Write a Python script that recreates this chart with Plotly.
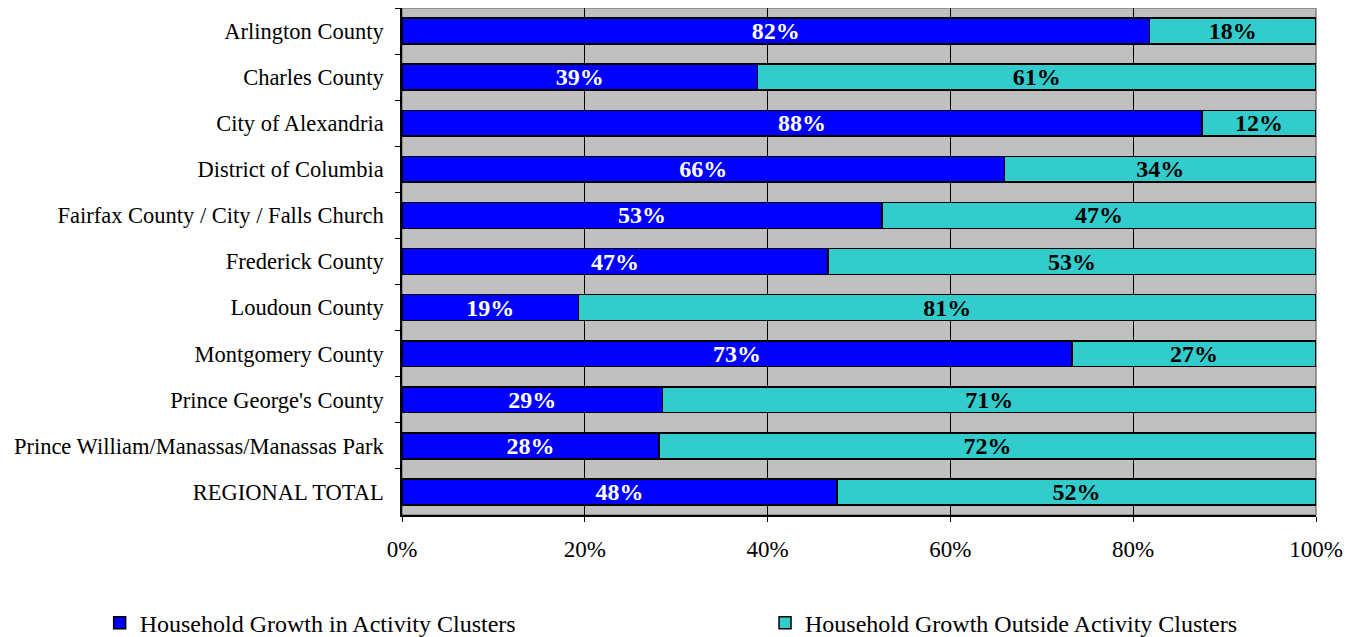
import plotly.graph_objects as go

categories = [
    "Arlington County",
    "Charles County",
    "City of Alexandria",
    "District of Columbia",
    "Fairfax County / City / Falls Church",
    "Frederick County",
    "Loudoun County",
    "Montgomery County",
    "Prince George's County",
    "Prince William/Manassas/Manassas Park",
    "REGIONAL TOTAL",
]
inside_share = [0.818, 0.389, 0.875, 0.659, 0.525, 0.466, 0.193, 0.733, 0.285, 0.281, 0.476]
outside_share = [round(1 - v, 3) for v in inside_share]
inside_labels = ["82%", "39%", "88%", "66%", "53%", "47%", "19%", "73%", "29%", "28%", "48%"]
outside_labels = ["18%", "61%", "12%", "34%", "47%", "53%", "81%", "27%", "71%", "72%", "52%"]
x_ticks = [0, 0.2, 0.4, 0.6, 0.8, 1.0]
x_tick_labels = ["0%", "20%", "40%", "60%", "80%", "100%"]

FONT = "Liberation Serif"

fig = go.Figure()
fig.add_trace(go.Bar(
    y=categories, x=inside_share, orientation="h",
    name="Household Growth in Activity Clusters",
    marker=dict(color="#0000FF", line=dict(color="black", width=1.5)),
    text=inside_labels, textposition="inside", insidetextanchor="middle",
    textfont=dict(family=FONT, size=24, color="white", weight="bold"),
    constraintext="none",
    legend="legend",
))
fig.add_trace(go.Bar(
    y=categories, x=outside_share, orientation="h",
    name="Household Growth Outside Activity Clusters",
    marker=dict(color="#33CCCC", line=dict(color="black", width=1.5)),
    text=outside_labels, textposition="inside", insidetextanchor="middle",
    textfont=dict(family=FONT, size=24, color="black", weight="bold"),
    constraintext="none",
    legend="legend2",
))

legend_common = dict(
    orientation="h",
    xref="container", yref="container",
    yanchor="middle",
    font=dict(family=FONT, size=24, color="black"),
    bgcolor="rgba(0,0,0,0)",
)

fig.update_layout(
    barmode="stack",
    bargap=0.44,
    width=1348, height=629,
    margin=dict(l=394, r=40, t=0, b=122),
    paper_bgcolor="white",
    plot_bgcolor="#C0C0C0",
    font=dict(family=FONT, size=23, color="black"),
    showlegend=True,
    legend=dict(legend_common, x=0.068, y=0.022, xanchor="left"),
    legend2=dict(legend_common, x=0.5616, y=0.022, xanchor="left"),
    shapes=[dict(type="rect", xref="paper", yref="paper", x0=0, x1=1, y0=0, y1=1,
                 line=dict(color="#808080", width=1.5), layer="below")],
)
fig.update_xaxes(
    range=[0, 1], tickvals=x_ticks, ticktext=x_tick_labels,
    showgrid=True, gridcolor="black", gridwidth=1,
    showline=True, linecolor="black", linewidth=1.5,
    ticks="outside", ticklen=5, tickcolor="black",
    ticklabelstandoff=8,
    tickfont=dict(family=FONT, size=23),
    zeroline=False, fixedrange=True, automargin=False,
)
fig.update_yaxes(
    autorange="reversed",
    showline=True, linecolor="black", linewidth=1.5,
    ticks="outside", ticklen=5, tickcolor="black", tickson="boundaries",
    ticklabelstandoff=12,
    tickfont=dict(family=FONT, size=22.5),
    showgrid=False, fixedrange=True, automargin=False,
)

fig.write_html("out.html")
